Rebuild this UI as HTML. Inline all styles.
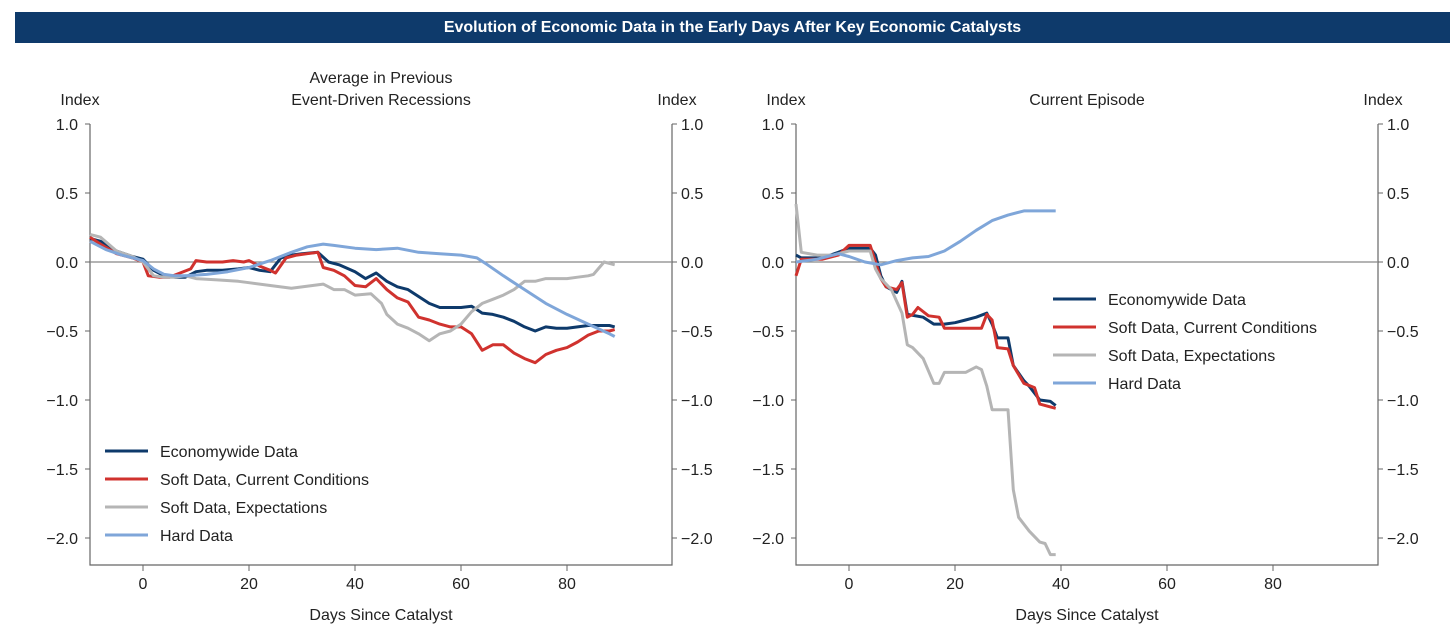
<!DOCTYPE html>
<html><head><meta charset="utf-8"><style>
body{margin:0;background:#fff;width:1456px;height:631px;overflow:hidden;font-family:"Liberation Sans",Arial,sans-serif}
#hdr{position:absolute;left:15px;top:12px;width:1435px;height:31px;background:#0e3a6b;color:#fff;font-weight:bold;font-size:16px;text-align:center;line-height:31px}
svg{position:absolute;left:0;top:0}
text{font-family:"Liberation Sans",Arial,sans-serif;font-size:16px;fill:#222}
</style></head><body>
<div id="hdr">Evolution of Economic Data in the Early Days After Key Economic Catalysts</div>
<svg id="c" width="1456" height="631"></svg>
<script>
const yTicks=[1.0,0.5,0.0,-0.5,-1.0,-1.5,-2.0];
const yTickLabels=["1.0","0.5","0.0","\u22120.5","\u22121.0","\u22121.5","\u22122.0"];
const xTicks=[0,20,40,60,80];
const seriesNames=["Economywide Data","Soft Data, Current Conditions","Soft Data, Expectations","Hard Data"];
const seriesColors=["#0e3a6b","#d0322e","#b5b5b5","#7fa6d9"];
const leftEconDays=[-10,-8,-5,-2,0,2,4,6,8,10,12,15,18,20,22,24,26,28,30,33,35,37,40,42,44,46,48,50,52,54,56,58,60,62,64,66,68,70,72,74,76,78,80,82,84,86,88,89];
const leftEconVals=[0.17,0.15,0.08,0.04,0.02,-0.06,-0.1,-0.11,-0.11,-0.07,-0.06,-0.06,-0.05,-0.04,-0.06,-0.07,0.03,0.05,0.06,0.07,0,-0.02,-0.07,-0.12,-0.08,-0.14,-0.18,-0.2,-0.25,-0.3,-0.33,-0.33,-0.33,-0.32,-0.37,-0.38,-0.4,-0.43,-0.47,-0.5,-0.47,-0.48,-0.48,-0.47,-0.46,-0.46,-0.46,-0.47];
const leftCurDays=[-10,-8,-5,-2,0,1,3,5,7,9,10,12,15,17,19,20,22,24,25,27,29,31,33,34,36,38,40,42,44,46,48,50,52,54,56,58,60,62,64,66,68,70,72,74,76,78,80,82,84,86,88,89];
const leftCurVals=[0.18,0.13,0.06,0.03,0,-0.1,-0.11,-0.11,-0.08,-0.05,0.01,0,0,0.01,0,0.01,-0.03,-0.06,-0.08,0.03,0.05,0.06,0.07,-0.04,-0.06,-0.1,-0.17,-0.18,-0.12,-0.2,-0.26,-0.29,-0.4,-0.42,-0.45,-0.47,-0.47,-0.52,-0.64,-0.6,-0.6,-0.66,-0.7,-0.73,-0.67,-0.64,-0.62,-0.58,-0.53,-0.5,-0.5,-0.49];
const leftExpDays=[-10,-8,-5,-2,0,2,4,6,8,10,14,18,20,24,28,32,34,36,38,40,43,45,46,48,50,52,54,56,58,60,62,64,66,68,70,72,74,76,78,80,82,84,85,87,89];
const leftExpVals=[0.2,0.18,0.08,0.04,0,-0.1,-0.11,-0.11,-0.1,-0.12,-0.13,-0.14,-0.15,-0.17,-0.19,-0.17,-0.16,-0.2,-0.2,-0.24,-0.23,-0.3,-0.38,-0.45,-0.48,-0.52,-0.57,-0.52,-0.5,-0.45,-0.36,-0.3,-0.27,-0.24,-0.2,-0.14,-0.14,-0.12,-0.12,-0.12,-0.11,-0.1,-0.09,0,-0.02];
const leftHardDays=[-10,-7,-4,0,2,4,6,8,12,16,20,24,28,31,34,36,40,44,48,52,56,60,63,65,68,72,76,80,84,88,89];
const leftHardVals=[0.15,0.09,0.05,0.01,-0.05,-0.09,-0.1,-0.1,-0.09,-0.07,-0.04,0.01,0.07,0.11,0.13,0.12,0.1,0.09,0.1,0.07,0.06,0.05,0.03,-0.02,-0.1,-0.2,-0.3,-0.38,-0.45,-0.52,-0.54];
const rightEconDays=[-10,-9,-5,-2,0,4,5,6,7,8,9,10,11,14,16,18,20,22,24,26,27,28,30,31,33,34,36,38,39];
const rightEconVals=[0.05,0.03,0.03,0.07,0.1,0.1,0.05,-0.1,-0.18,-0.2,-0.22,-0.14,-0.38,-0.4,-0.45,-0.45,-0.44,-0.42,-0.4,-0.37,-0.45,-0.55,-0.55,-0.75,-0.86,-0.9,-1.0,-1.01,-1.04];
const rightCurDays=[-10,-9,-5,-2,0,4,5,6,7,9,10,11,12,13,15,17,18,22,25,26,27,28,30,31,33,35,36,38,39];
const rightCurVals=[-0.1,0.02,0.02,0.05,0.12,0.12,0,-0.12,-0.18,-0.2,-0.15,-0.4,-0.38,-0.33,-0.39,-0.4,-0.48,-0.48,-0.48,-0.38,-0.42,-0.62,-0.63,-0.75,-0.88,-0.91,-1.03,-1.05,-1.06];
const rightExpDays=[-10,-9,-6,-3,0,4,5,6,8,10,11,12,14,16,17,18,22,24,25,26,27,30,31,32,34,36,37,38,39];
const rightExpVals=[0.42,0.07,0.05,0.05,0.08,0.08,-0.05,-0.12,-0.2,-0.37,-0.6,-0.62,-0.7,-0.88,-0.88,-0.8,-0.8,-0.76,-0.78,-0.9,-1.07,-1.07,-1.65,-1.85,-1.95,-2.03,-2.04,-2.12,-2.12];
const rightHardDays=[-10,-6,-2,0,3,6,9,12,15,18,21,24,27,30,33,36,39];
const rightHardVals=[0,0.02,0.06,0.04,0,-0.02,0.01,0.03,0.04,0.08,0.15,0.23,0.3,0.34,0.37,0.37,0.37];

const NS="http://www.w3.org/2000/svg";
const svg=document.getElementById('c');
function mk(tag,attrs,parent){const e=document.createElementNS(NS,tag);for(const k in attrs)e.setAttribute(k,attrs[k]);(parent||svg).appendChild(e);return e;}
function txt(x,y,s,anchor,name){const t=mk('text',{x:x,y:y,'text-anchor':anchor});t.textContent=s;


return t;}

function panel(p){
  const x0=p.left,x1=p.right,yTop=124,yBot=565;
  const xs=d=>p.zero+d*5.3;
  const ys=v=>262-v*138;
  const g=mk('g',{});
  
  
  // frame
  mk('polyline',{points:`${x0},${yTop} ${x0},${yBot} ${x1},${yBot} ${x1},${yTop}`,fill:'none',stroke:'#666','stroke-width':1.2},g);
  mk('line',{x1:x0,x2:x1,y1:ys(0),y2:ys(0),stroke:'#888','stroke-width':1.2},g);
  yTicks.forEach((v,i)=>{
    mk('line',{x1:x0-5,x2:x0,y1:ys(v),y2:ys(v),stroke:'#666'},g);
    mk('line',{x1:x1,x2:x1+5,y1:ys(v),y2:ys(v),stroke:'#666'},g);
    txt(x0-12,ys(v)+6,yTickLabels[i],'end','y-tick-label-left');
    txt(x1+9,ys(v)+6,yTickLabels[i],'start','y-tick-label-right');
  });
  xTicks.forEach(d=>{
    mk('line',{x1:xs(d),x2:xs(d),y1:yBot,y2:yBot+6,stroke:'#666'},g);
    txt(xs(d),589,String(d),'middle','x-tick-label');
  });
  txt((x0+x1)/2,620,'Days Since Catalyst','middle','x-axis-title');
  txt(x0-10,105,'Index','middle','y-axis-title-left');
  txt(x1+5,105,'Index','middle','y-axis-title-right');
  p.sub.forEach((s,i)=>txt((x0+x1)/2-p.subShift,83+i*22-(p.sub.length==1?-22:0),s,'middle','panel-subtitle'));
  p.series.forEach((s,i)=>{
    const pts=s[0].map((d,j)=>xs(d).toFixed(1)+','+ys(s[1][j]).toFixed(1)).join(' ');
    const l=mk('polyline',{points:pts,fill:'none',stroke:seriesColors[i],'stroke-width':3,'stroke-linejoin':'round'},g);
    
    
  });
  // legend
  seriesNames.forEach((n,i)=>{
    const y=p.legY+i*28;
    const lg=mk('g',{},g);
    
    
    mk('line',{x1:p.legX,x2:p.legX+43,y1:y,y2:y,stroke:seriesColors[i],'stroke-width':3},lg);
    const t=txt(p.legX+55,y+6,n,'start','legend-label');lg.appendChild(t);
  });
}
panel({name:'left-panel',left:90,right:672,zero:143,sub:['Average in Previous','Event-Driven Recessions'],subShift:0,legX:105,legY:451,
  series:[[leftEconDays,leftEconVals],[leftCurDays,leftCurVals],[leftExpDays,leftExpVals],[leftHardDays,leftHardVals]]});
panel({name:'right-panel',left:796,right:1378,zero:849,sub:['Current Episode'],subShift:0,legX:1053,legY:299,
  series:[[rightEconDays,rightEconVals],[rightCurDays,rightCurVals],[rightExpDays,rightExpVals],[rightHardDays,rightHardVals]]});
</script>
</body></html>
